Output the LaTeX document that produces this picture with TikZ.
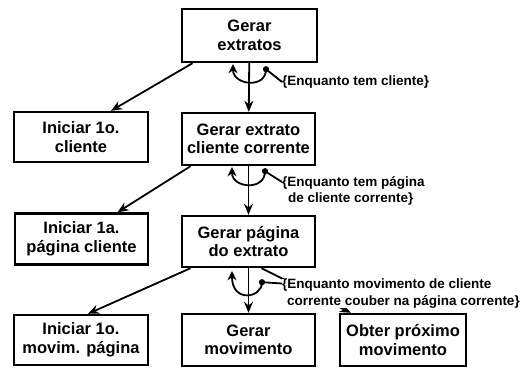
\documentclass[tikz,border=0pt]{standalone}
\usepackage{fontspec}
\setmainfont{Liberation Sans}
\usetikzlibrary{arrows.meta}

\begin{document}
\begin{tikzpicture}[x=1pt,y=-1pt,
		caixa/.style={draw,line width=2.4pt,align=center,inner sep=0pt,font=\fontsize{16.5}{18.5}\selectfont\bfseries},
		ligacao/.style={line width=1.8pt,-{Stealth[length=11pt,width=9pt]}},
		laco/.style={line width=1.8pt,-{Stealth[length=9pt,width=9pt]}},
		nota/.style={inner sep=0pt,align=left,anchor=west,font=\fontsize{13.5}{16.5}\selectfont\bfseries}]
		\useasboundingbox (0,0) rectangle (522,370);
		\draw (249.5,35.5) node [caixa,minimum width=135pt,minimum height=53pt] (A) {Gerar\\extratos};
		\draw (81,137) node [caixa,minimum width=134pt,minimum height=50pt] (B) {Iniciar 1o.\\cliente};
		\draw (248.5,139) node [caixa,minimum width=133pt,minimum height=52pt] (C) {Gerar extrato\\cliente corrente};
		\draw (81.5,239) node [caixa,minimum width=133pt,minimum height=51pt] (D) {Iniciar 1a.\\página cliente};
		\draw (248.5,241.5) node [caixa,minimum width=133pt,minimum height=51pt] (E) {Gerar página\\do extrato};
		\draw (81,340) node [caixa,minimum width=134pt,minimum height=50pt] (F) {Iniciar 1o.\\movim. página};
		\draw (248.5,340) node [caixa,minimum width=133pt,minimum height=52pt] (G) {Gerar\\movimento};
		\draw (403,340) node [caixa,minimum width=126pt,minimum height=52pt] (H) {Obter próximo\\movimento};
		\draw[ligacao] (A) -- (C);
		\draw[ligacao] ([xshift=-57pt]A.south) -- ([xshift=30pt]B.north);
		\draw[ligacao] (C) -- (E);
		\draw[ligacao] ([xshift=-58pt]C.south) -- ([xshift=36pt]D.north);
		\draw[ligacao] (E) -- (G);
		\draw[ligacao] ([xshift=-58pt]E.south) -- ([xshift=7pt]F.north);
		\draw[ligacao] ([xshift=13pt]E.south) -- ([xshift=12pt]H.north west);
		\draw (282,82) node [nota] (l1) {\{Enquanto tem cliente\}};
		\draw (282,191) node [nota] (l2) {\{Enquanto tem página\\\hspace*{6pt}de cliente corrente\}};
		\draw (282,293.5) node [nota,fill=white] (l3) {\{Enquanto movimento de cliente\\\hspace*{5pt}corrente couber na página corrente\}};
		\coordinate (a1) at ([xshift=-16.5pt,yshift=-1pt]A.south);
		\coordinate (a2) at ([xshift=-16.5pt,yshift=-1pt]C.south);
		\coordinate (a3) at ([xshift=-16.5pt,yshift=-3pt]E.south);
		\draw node at ([xshift=16.5pt,yshift=-6pt]A.south) [circle,fill,inner sep=2.2pt] (b1) {};
		\draw node at ([xshift=16.5pt,yshift=-5pt]C.south) [circle,fill,inner sep=2.2pt] (b2) {};
		\draw node at ([xshift=13.5pt,yshift=-14pt]E.south) [circle,fill,inner sep=2.2pt] (b3) {};
		\draw[laco] (b1.center) .. controls +(0,20) and +(0,21) .. (a1);
		\draw[laco] (b2.center) .. controls +(0,20) and +(0,21) .. (a2);
		\draw[laco] (b3.center) .. controls +(0,16) and +(0,32) .. (a3);
		\draw[line width=1.8pt] (b1.center) -- (l1.west);
		\draw[line width=1.8pt] (b2.center) -- ([yshift=9pt]l2.west);
		\draw[line width=1.8pt] (b3.center) -- ([yshift=10pt]l3.west);
\end{tikzpicture}
\end{document}
